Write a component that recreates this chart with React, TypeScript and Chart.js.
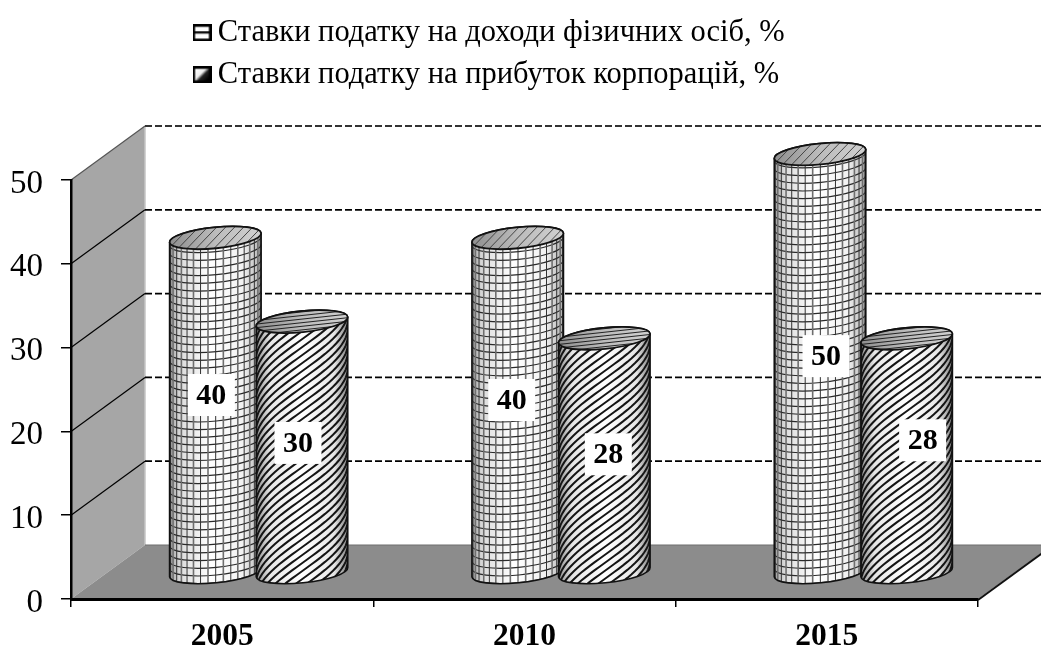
import React, { useEffect, useRef } from "react";
import { Chart, registerables } from "chart.js";

Chart.register(...registerables);

const categories = ["2005", "2010", "2015"];
const seriesNames = [
  "Ставки податку на доходи фізичних осіб, %",
  "Ставки податку на прибуток корпорацій, %",
];
const personalRates = [40, 40, 50];
const corporateRates = [30, 28, 28];

const labelNudgeX = [[-4, -6, 6], [-4, 4, 16]];
const labelNudgeY = [[-10, -5, -7], [-4, -1, -15]];

const DEPTH_X = 74;
const DEPTH_Y = 54;
const RX = 46;
const RY = 10.5;
const ROT = -0.1;
const SERIF = '"Liberation Serif"';

function silhouette(ctx: CanvasRenderingContext2D, cx: number, topY: number, botY: number) {
  ctx.beginPath();
  ctx.ellipse(cx, botY, RX, RY, ROT, 0, Math.PI, false);
  ctx.ellipse(cx, topY, RX, RY, ROT, Math.PI, 0, false);
  ctx.closePath();
}

function shade(ctx: CanvasRenderingContext2D, cx: number, stops: [number, string][]) {
  const g = ctx.createLinearGradient(cx - RX, 0, cx + RX, 0);
  stops.forEach(([o, c]) => g.addColorStop(o, c));
  return g;
}

function drawCylinder(ctx: CanvasRenderingContext2D, kind: number, cx: number, topY: number, botY: number) {
  ctx.save();
  silhouette(ctx, cx, topY, botY);
  ctx.fillStyle = shade(ctx, cx, kind === 0
    ? [[0, "#a0a0a0"], [0.12, "#dcdcdc"], [0.45, "#ffffff"], [0.8, "#f2f2f2"], [1, "#b0b0b0"]]
    : [[0, "#8c8c8c"], [0.15, "#e6e6e6"], [0.5, "#ffffff"], [0.85, "#e6e6e6"], [1, "#808080"]]);
  ctx.fill();
  ctx.save();
  ctx.clip();
  if (kind === 0) {
    ctx.lineWidth = 1.2;
    ctx.strokeStyle = "#2a2a2a";
    for (let y = botY + 3; y > topY - 24; y -= 7.7) {
      ctx.beginPath();
      ctx.ellipse(cx, y - 3, RX, RY, ROT, 0, Math.PI, false);
      ctx.stroke();
    }
    let alt = 0;
    for (let t = -86; t <= 86; t += 9.6) {
      const x = cx + RX * Math.sin((t * Math.PI) / 180);
      ctx.strokeStyle = alt % 2 === 0 ? "#6e6e6e" : "#333333";
      ctx.lineWidth = alt % 2 === 0 ? 1.6 : 1;
      alt++;
      ctx.beginPath();
      ctx.moveTo(x, topY - 20);
      ctx.lineTo(x, botY + 20);
      ctx.stroke();
    }
  } else {
    ctx.lineWidth = 2;
    ctx.strokeStyle = "#151515";
    const arc = RX * Math.PI;
    for (let y0 = botY + RY + arc; y0 > topY - RY - 10; y0 -= 8) {
      ctx.beginPath();
      for (let t = -90; t <= 90; t += 6) {
        const a = (t * Math.PI) / 180;
        const x = cx + RX * Math.sin(a);
        const y = y0 - 0.72 * RX * (a + Math.PI / 2);
        if (t === -90) ctx.moveTo(x, y);
        else ctx.lineTo(x, y);
      }
      ctx.stroke();
    }
  }
  ctx.restore();
  silhouette(ctx, cx, topY, botY);
  ctx.lineWidth = 1.6;
  ctx.strokeStyle = "#111111";
  ctx.stroke();

  ctx.beginPath();
  ctx.ellipse(cx, topY, RX, RY, ROT, 0, Math.PI * 2);
  ctx.fillStyle = shade(ctx, cx, [[0, "#8e8e8e"], [0.5, "#bcbcbc"], [1, "#d0d0d0"]]);
  ctx.fill();
  ctx.save();
  ctx.clip();
  ctx.lineWidth = 1;
  ctx.strokeStyle = "#444444";
  if (kind === 0) {
    for (let x = cx - RX - 30; x < cx + RX + 30; x += 9) {
      ctx.beginPath();
      ctx.moveTo(x, topY + RY + 3);
      ctx.lineTo(x + 26, topY - RY - 3);
      ctx.stroke();
    }
  } else {
    ctx.strokeStyle = "#222222";
    for (let y = topY - RY - 10; y < topY + RY + 10; y += 3.6) {
      ctx.beginPath();
      ctx.moveTo(cx - RX, y + 5);
      ctx.lineTo(cx + RX, y - 5);
      ctx.stroke();
    }
  }
  ctx.restore();
  ctx.beginPath();
  ctx.ellipse(cx, topY, RX, RY, ROT, 0, Math.PI * 2);
  ctx.lineWidth = 1.8;
  ctx.strokeStyle = "#111111";
  ctx.stroke();
  ctx.restore();
}

function legendSwatch(kind: number) {
  const c = document.createElement("canvas");
  c.width = 19;
  c.height = 17;
  const g = c.getContext("2d")!;
  g.fillStyle = "#ffffff";
  g.fillRect(1, 1, 17, 15);
  if (kind === 0) {
    g.fillStyle = "#111111";
    g.fillRect(2, 7, 15, 2.4);
  } else {
    const lg = g.createLinearGradient(4, 3, 15, 14);
    lg.addColorStop(0, "#ffffff");
    lg.addColorStop(0.4, "#eeeeee");
    lg.addColorStop(0.6, "#222222");
    lg.addColorStop(1, "#000000");
    g.fillStyle = lg;
    g.fillRect(2, 2, 15, 13);
  }
  g.strokeStyle = "#000000";
  g.lineWidth = 2.6;
  g.strokeRect(1.3, 1.3, 16.4, 14.4);
  return c;
}

const scenePlugin = {
  id: "scene3d",
  afterLayout(chart: any) {
    chart.legend.left = 190;
    chart.legend.top = 6;
  },
  beforeDraw(chart: any) {
    const { ctx, scales, chartArea, width } = chart;
    const y = scales.y;
    const x0 = chartArea.left;
    const x1 = chartArea.right;
    const y0 = y.getPixelForValue(0);
    const yMax = y.getPixelForValue(50);
    ctx.save();
    // side wall
    ctx.beginPath();
    ctx.moveTo(x0, y0);
    ctx.lineTo(x0 + DEPTH_X, y0 - DEPTH_Y);
    ctx.lineTo(x0 + DEPTH_X, yMax - DEPTH_Y);
    ctx.lineTo(x0, yMax);
    ctx.closePath();
    ctx.fillStyle = "#a6a6a6";
    ctx.fill();
    ctx.beginPath();
    ctx.lineWidth = 1.5;
    ctx.strokeStyle = "#c4c4c4";
    ctx.moveTo(x0 + DEPTH_X, y0 - DEPTH_Y);
    ctx.lineTo(x0 + DEPTH_X, yMax - DEPTH_Y);
    ctx.stroke();
    // floor
    ctx.beginPath();
    ctx.moveTo(x0, y0);
    ctx.lineTo(x0 + DEPTH_X, y0 - DEPTH_Y);
    ctx.lineTo(x1 + DEPTH_X, y0 - DEPTH_Y);
    ctx.lineTo(x1, y0);
    ctx.closePath();
    ctx.fillStyle = "#8c8c8c";
    ctx.fill();
    ctx.beginPath();
    ctx.lineWidth = 1.2;
    ctx.strokeStyle = "#6e6e6e";
    ctx.moveTo(x0 + DEPTH_X, y0 - DEPTH_Y);
    ctx.lineTo(x1 + DEPTH_X, y0 - DEPTH_Y);
    ctx.stroke();
    // grid
    y.ticks.forEach((t: any) => {
      const py = y.getPixelForValue(t.value);
      if (t.value > 0) {
        ctx.beginPath();
        ctx.setLineDash([7, 3]);
        ctx.lineWidth = 1.8;
        ctx.strokeStyle = t.value === 50 ? "#333333" : "#000000";
        ctx.moveTo(x0 + DEPTH_X, py - DEPTH_Y);
        ctx.lineTo(width, py - DEPTH_Y);
        ctx.stroke();
        ctx.setLineDash([]);
        ctx.beginPath();
        ctx.lineWidth = 1.2;
        ctx.strokeStyle = t.value === 50 ? "#555555" : "#000000";
        ctx.moveTo(x0, py);
        ctx.lineTo(x0 + DEPTH_X, py - DEPTH_Y);
        ctx.stroke();
      }
    });
    ctx.beginPath();
    ctx.lineWidth = 2;
    ctx.strokeStyle = "#111111";
    ctx.moveTo(x1, y0 + 1);
    ctx.lineTo(x1 + DEPTH_X, y0 + 1 - DEPTH_Y);
    ctx.stroke();
    ctx.restore();
  },
  afterDatasetsDraw(chart: any) {
    const { ctx } = chart;
    const lift = 26;
    const shift = 36.5;
    chart.data.datasets.forEach((_: any, di: number) => {
      chart.getDatasetMeta(di).data.forEach((bar: any) => {
        drawCylinder(ctx, di, bar.x + shift, bar.y - lift, bar.base - lift);
      });
    });
    chart.data.datasets.forEach((ds: any, di: number) => {
      chart.getDatasetMeta(di).data.forEach((bar: any, i: number) => {
        const lx = bar.x + shift + labelNudgeX[di][i];
        const ly = (bar.y + bar.base) / 2 - lift + labelNudgeY[di][i];
        ctx.save();
        ctx.fillStyle = "#ffffff";
        ctx.fillRect(lx - 23.5, ly - 21, 47, 42);
        ctx.fillStyle = "#000000";
        ctx.font = `bold 30px ${SERIF}`;
        ctx.textAlign = "center";
        ctx.textBaseline = "middle";
        ctx.fillText(String(ds.data[i]), lx, ly + 1);
        ctx.restore();
      });
    });
  },
};

export default function App() {
  const ref = useRef<HTMLCanvasElement>(null);
  useEffect(() => {
    document.body.style.margin = "0";
    const chart = new Chart(ref.current!, {
      type: "bar",
      data: {
        labels: categories,
        datasets: [
          { label: seriesNames[0], data: personalRates, backgroundColor: "rgba(0,0,0,0)", borderWidth: 0 },
          { label: seriesNames[1], data: corporateRates, backgroundColor: "rgba(0,0,0,0)", borderWidth: 0 },
        ],
      },
      options: {
        responsive: false,
        animation: false,
        datasets: { bar: { categoryPercentage: 0.573, barPercentage: 1 } },
        layout: { padding: { top: 86, right: 63, left: 0, bottom: 0 } },
        plugins: {
          tooltip: { enabled: false },
          legend: {
            display: true,
            position: "top",
            align: "start",
            labels: {
              color: "#000000",
              font: { family: SERIF, size: 30.5 },
              padding: 11.5,
              usePointStyle: true,
              pointStyleWidth: 1,
              generateLabels: (c: any) =>
                c.data.datasets.map((d: any, i: number) => ({
                  text: d.label,
                  pointStyle: legendSwatch(i),
                  fillStyle: "#000",
                  strokeStyle: "#000",
                  lineWidth: 0,
                  datasetIndex: i,
                })),
            },
          },
        },
        scales: {
          x: {
            afterFit: (s: any) => { s.height = 49; },
            grid: { drawOnChartArea: false, drawTicks: true, tickLength: 8, color: "#000000", lineWidth: 1.5 },
            border: { color: "#000000", width: 3 },
            ticks: {
              color: "#000000",
              padding: 11,
              maxRotation: 0,
              autoSkip: false,
              font: { family: SERIF, size: 31.5, weight: "bold" },
            },
          },
          y: {
            min: 0,
            max: 50,
            afterFit: (s: any) => { s.width = 71; },
            grid: { drawOnChartArea: false, drawTicks: true, tickLength: 10, color: "#000000", lineWidth: 1.5 },
            border: { color: "#000000", width: 2.5 },
            ticks: {
              stepSize: 10,
              color: "#000000",
              padding: 18,
              labelOffset: 4,
              font: { family: SERIF, size: 33 },
            },
          },
        },
      },
      plugins: [scenePlugin],
    });
    return () => chart.destroy();
  }, []);
  return <canvas ref={ref} width={1041} height={648} style={{ display: "block" }} />;
}
